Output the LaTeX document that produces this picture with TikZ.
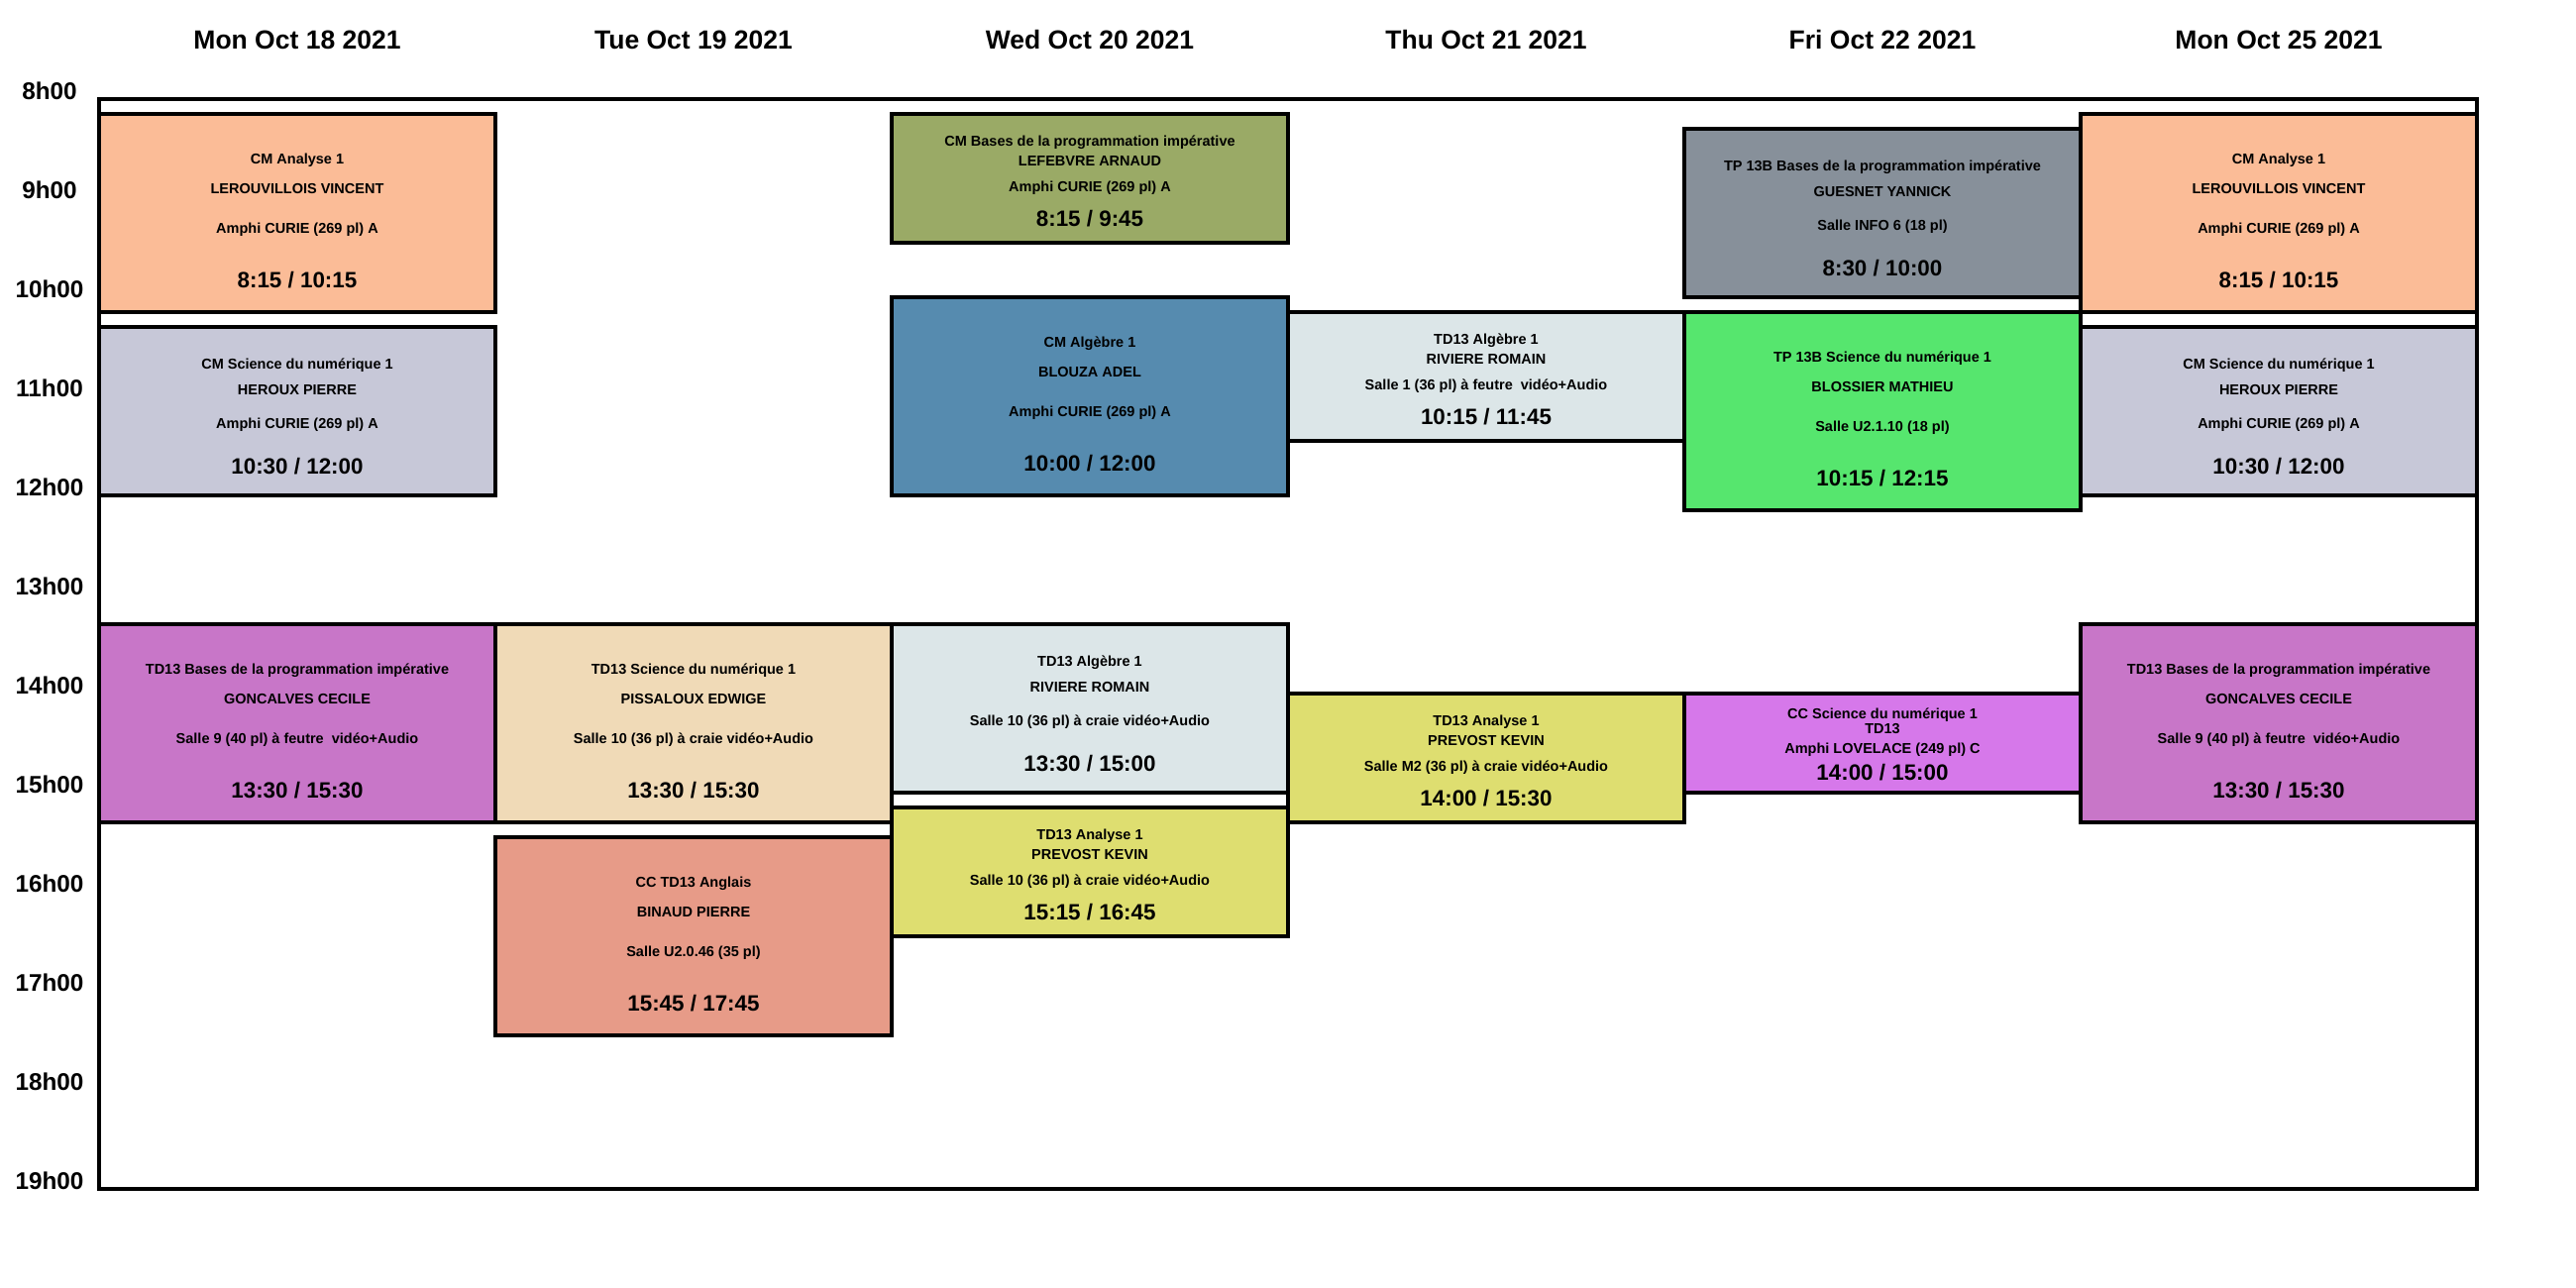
\documentclass[tikz,border=0pt]{standalone}
\usepackage{fontspec}
\setmainfont{Liberation Sans}
\definecolor{cOrange}{HTML}{FBBC97}
\definecolor{cLav}{HTML}{C7C8D8}
\definecolor{cPurple}{HTML}{C876C8}
\definecolor{cBeige}{HTML}{F0DAB7}
\definecolor{cSalmon}{HTML}{E79B88}
\definecolor{cOlive}{HTML}{9AAA66}
\definecolor{cBlue}{HTML}{568BAF}
\definecolor{cLight}{HTML}{DCE6E8}
\definecolor{cYellow}{HTML}{DEDE70}
\definecolor{cGray}{HTML}{87909A}
\definecolor{cGreen}{HTML}{56E66E}
\definecolor{cViolet}{HTML}{D678EA}
\tikzset{
  evbox/.style={draw=black, line width=4.5pt, rectangle, inner sep=0pt, outer sep=0pt, anchor=north west, minimum width=400pt},
  framebox/.style={draw=black, line width=4.5pt, rectangle, inner sep=0pt, outer sep=0pt, anchor=north west},
  evtxt/.style={font=\bfseries\fontsize{14.5}{17}\selectfont, inner sep=0pt, anchor=base},
  evtime/.style={font=\bfseries\fontsize{22.4}{26}\selectfont, inner sep=0pt, anchor=base},
  dayhead/.style={font=\bfseries\fontsize{26.5}{30}\selectfont, inner sep=0pt, anchor=base},
  hourlbl/.style={font=\bfseries\fontsize{24.3}{28}\selectfont, inner sep=0pt, anchor=base},
}
\newcommand\evt[9]{%
  \pgfmathsetmacro\evh{#4-#3}%
  \pgfmathsetmacro\evx{#2+200}%
  \pgfmathsetmacro\eya{#3+0.25*\evh+0.2}%
  \pgfmathsetmacro\eyb{#3+0.4*\evh+0.2}%
  \pgfmathsetmacro\eyc{#3+0.6*\evh+0.2}%
  \pgfmathsetmacro\eyd{#3+0.88*\evh-1}%
  \node[evbox, fill=#5, minimum height=\evh pt] (#1) at (#2,#3) {};
  \node[evtxt] (#1-title) at (\evx,\eya) {#6};
  \node[evtxt] (#1-who) at (\evx,\eyb) {#7};
  \node[evtxt] (#1-room) at (\evx,\eyc) {#8};
  \node[evtime] (#1-time) at (\evx,\eyd) {#9};
}
\begin{document}
\begin{tikzpicture}[x=1pt,y=-1pt]
\useasboundingbox (0,0) rectangle (2600,1300);
\fill[white] (0,0) rectangle (2600,1300);
% day headers
\node[dayhead] (d1) at (300,49.5) {Mon Oct 18 2021};
\node[dayhead] (d2) at (700,49.5) {Tue Oct 19 2021};
\node[dayhead] (d3) at (1100,49.5) {Wed Oct 20 2021};
\node[dayhead] (d4) at (1500,49.5) {Thu Oct 21 2021};
\node[dayhead] (d5) at (1900,49.5) {Fri Oct 22 2021};
\node[dayhead] (d6) at (2300,49.5) {Mon Oct 25 2021};
% hour labels
\foreach \h [count=\i from 0] in {8,...,19}{
  \node[hourlbl] (h\h) at (50,{92+100*\i+8.7}) {\h h00};
}
% frame
\node[framebox, minimum width=2400pt, minimum height=1100pt] (frame) at (100,100) {};
% Monday 18
\evt{A}{100}{115}{315}{cOrange}{CM Analyse 1}{LEROUVILLOIS VINCENT}{Amphi CURIE (269 pl) A}{8:15 / 10:15}
\evt{B}{100}{330}{500}{cLav}{CM Science du numérique 1}{HEROUX PIERRE}{Amphi CURIE (269 pl) A}{10:30 / 12:00}
\evt{C}{100}{630}{830}{cPurple}{TD13 Bases de la programmation impérative}{GONCALVES CECILE}{Salle 9 (40 pl) à feutre\ \ vidéo+Audio}{13:30 / 15:30}
% Tuesday
\evt{D}{500}{630}{830}{cBeige}{TD13 Science du numérique 1}{PISSALOUX EDWIGE}{Salle 10 (36 pl) à craie vidéo+Audio}{13:30 / 15:30}
\evt{E}{500}{845}{1045}{cSalmon}{CC TD13 Anglais}{BINAUD PIERRE}{Salle U2.0.46 (35 pl)}{15:45 / 17:45}
% Wednesday
\evt{F}{900}{115}{245}{cOlive}{CM Bases de la programmation impérative}{LEFEBVRE ARNAUD}{Amphi CURIE (269 pl) A}{8:15 / 9:45}
\evt{G}{900}{300}{500}{cBlue}{CM Algèbre 1}{BLOUZA ADEL}{Amphi CURIE (269 pl) A}{10:00 / 12:00}
\evt{H}{900}{630}{800}{cLight}{TD13 Algèbre 1}{RIVIERE ROMAIN}{Salle 10 (36 pl) à craie vidéo+Audio}{13:30 / 15:00}
\evt{I}{900}{815}{945}{cYellow}{TD13 Analyse 1}{PREVOST KEVIN}{Salle 10 (36 pl) à craie vidéo+Audio}{15:15 / 16:45}
% Thursday
\evt{J}{1300}{315}{445}{cLight}{TD13 Algèbre 1}{RIVIERE ROMAIN}{Salle 1 (36 pl) à feutre\ \ vidéo+Audio}{10:15 / 11:45}
\evt{K}{1300}{700}{830}{cYellow}{TD13 Analyse 1}{PREVOST KEVIN}{Salle M2 (36 pl) à craie vidéo+Audio}{14:00 / 15:30}
% Friday
\evt{L}{1700}{130}{300}{cGray}{TP 13B Bases de la programmation impérative}{GUESNET YANNICK}{Salle INFO 6 (18 pl)}{8:30 / 10:00}
\evt{M}{1700}{315}{515}{cGreen}{TP 13B Science du numérique 1}{BLOSSIER MATHIEU}{Salle U2.1.10 (18 pl)}{10:15 / 12:15}
\evt{N}{1700}{700}{800}{cViolet}{CC Science du numérique 1}{TD13}{Amphi LOVELACE (249 pl) C}{14:00 / 15:00}
% Monday 25
\evt{O}{2100}{115}{315}{cOrange}{CM Analyse 1}{LEROUVILLOIS VINCENT}{Amphi CURIE (269 pl) A}{8:15 / 10:15}
\evt{P}{2100}{330}{500}{cLav}{CM Science du numérique 1}{HEROUX PIERRE}{Amphi CURIE (269 pl) A}{10:30 / 12:00}
\evt{Q}{2100}{630}{830}{cPurple}{TD13 Bases de la programmation impérative}{GONCALVES CECILE}{Salle 9 (40 pl) à feutre\ \ vidéo+Audio}{13:30 / 15:30}
\end{tikzpicture}
\end{document}
